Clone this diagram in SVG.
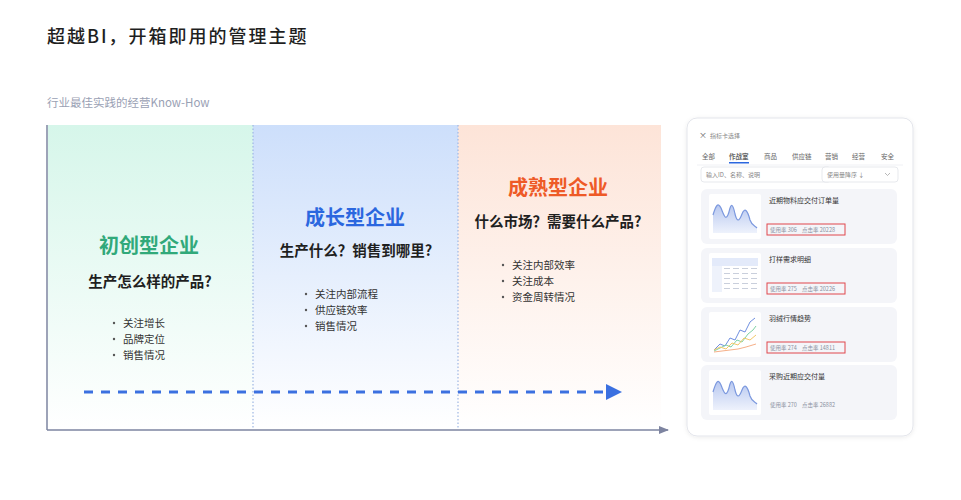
<svg xmlns="http://www.w3.org/2000/svg" width="961" height="500" viewBox="0 0 961 500">
<defs>
<linearGradient id="gGreen" x1="0" y1="0" x2="0" y2="1"><stop offset="0" stop-color="#d6f6ea"/><stop offset="1" stop-color="#ffffff"/></linearGradient>
<linearGradient id="gBlue" x1="0" y1="0" x2="0" y2="1"><stop offset="0" stop-color="#cddffb"/><stop offset="1" stop-color="#ffffff"/></linearGradient>
<linearGradient id="gOrange" x1="0" y1="0" x2="0" y2="1"><stop offset="0" stop-color="#fde4d8"/><stop offset="1" stop-color="#ffffff"/></linearGradient>
<linearGradient id="gArea" x1="0" y1="0" x2="0" y2="1"><stop offset="0" stop-color="#b8c8f0"/><stop offset="1" stop-color="#eef2fc"/></linearGradient>
<marker id="axisArrow" markerWidth="10" markerHeight="8" refX="9" refY="4" orient="auto" markerUnits="userSpaceOnUse"><path d="M0,0 L10,4 L0,8 Z" fill="#7d84a0"/></marker>
<filter id="shadow" x="-10%" y="-10%" width="120%" height="120%"><feDropShadow dx="0" dy="1" stdDeviation="2" flood-color="#000" flood-opacity="0.08"/></filter>
</defs>
<style>
text{font-family:"Noto Sans CJK SC","Noto Sans",sans-serif}
.title{font-size:18px;fill:#1f1f1f;font-weight:500;letter-spacing:2px}
.sub{font-size:11.5px;fill:#9aa1b4}
.stage{font-size:20px;font-weight:700;text-anchor:middle}
.q{font-size:14.5px;font-weight:700;fill:#1f1f1f;text-anchor:middle}
.b{font-size:10.5px;fill:#333}
.dot{fill:#555}
.sep{stroke:#9db6e3;stroke-width:1.2;stroke-dasharray:1.5 2}
.axis{stroke:#7d84a0;stroke-width:1.5;fill:none}
.tab{font-size:6.5px;fill:#666}
.small{font-size:6px;fill:#888}
.ctitle{font-size:7px;fill:#333}
.stat{font-size:5.5px;fill:#8a90a0}
.card{fill:#f4f5f9}
.thumb{fill:#ffffff}
.red{fill:none;stroke:#e0474c;stroke-width:1}
</style>
<rect width="961" height="500" fill="#ffffff"/>
<text class="title" x="47" y="43">超越BI，开箱即用的管理主题</text>
<text class="sub" x="47" y="107">行业最佳实践的经营Know-How</text>

<g id="stage1">
<rect x="48" y="125" width="205" height="304" fill="url(#gGreen)"/>
<text class="stage" x="149" y="253" fill="#31a97a">初创型企业</text>
<text class="q" x="150" y="287">生产怎么样的产品?</text>
<circle class="dot" cx="114" cy="323" r="1.2"/><text class="b" x="123" y="327">关注增长</text>
<circle class="dot" cx="114" cy="339" r="1.2"/><text class="b" x="123" y="343">品牌定位</text>
<circle class="dot" cx="114" cy="355" r="1.2"/><text class="b" x="123" y="359">销售情况</text>
</g>
<g id="stage2">
<rect x="253" y="125" width="205" height="304" fill="url(#gBlue)"/>
<text class="stage" x="355" y="225" fill="#2b67df">成长型企业</text>
<text class="q" x="356" y="256">生产什么？销售到哪里?</text>
<circle class="dot" cx="306" cy="294" r="1.2"/><text class="b" x="315" y="298">关注内部流程</text>
<circle class="dot" cx="306" cy="310" r="1.2"/><text class="b" x="315" y="314">供应链效率</text>
<circle class="dot" cx="306" cy="326" r="1.2"/><text class="b" x="315" y="330">销售情况</text>
</g>
<g id="stage3">
<rect x="458" y="125" width="203" height="304" fill="url(#gOrange)"/>
<text class="stage" x="558" y="195" fill="#ee5a27">成熟型企业</text>
<text class="q" x="558" y="227">什么市场？需要什么产品?</text>
<circle class="dot" cx="503" cy="265" r="1.2"/><text class="b" x="512" y="269">关注内部效率</text>
<circle class="dot" cx="503" cy="281" r="1.2"/><text class="b" x="512" y="285">关注成本</text>
<circle class="dot" cx="503" cy="297" r="1.2"/><text class="b" x="512" y="301">资金周转情况</text>
</g>

<g id="connectors">
<line class="sep" x1="253" y1="125" x2="253" y2="429"/>
<line class="sep" x1="458" y1="125" x2="458" y2="429"/>
<line class="axis" x1="47" y1="125" x2="47" y2="430"/>
<line class="axis" x1="47" y1="430" x2="668" y2="430" marker-end="url(#axisArrow)"/>
<line x1="84" y1="392" x2="606" y2="392" stroke="#3b70e0" stroke-width="3" stroke-dasharray="9 8"/>
<path d="M606,384 L622,392 L606,400 Z" fill="#3b70e0"/>
</g>

<g id="panel">
<rect x="687" y="118" width="226" height="318" rx="10" fill="#ffffff" stroke="#e3e5eb" filter="url(#shadow)"/>
<text x="699" y="138" font-size="8" fill="#666">×</text>
<text x="710" y="138" class="small" fill="#444">指标卡选择</text>
<text class="tab" x="702" y="159">全部</text>
<text class="tab" x="729" y="159" fill="#2b67df" font-weight="700">作战室</text>
<rect x="729" y="162" width="20" height="1.5" fill="#2b67df"/>
<text class="tab" x="764" y="159">商品</text>
<text class="tab" x="792" y="159">供应链</text>
<text class="tab" x="825" y="159">营销</text>
<text class="tab" x="852" y="159">经营</text>
<text class="tab" x="881" y="159">安全</text>
<line x1="697" y1="165" x2="903" y2="165" stroke="#eceef2" stroke-width="0.8"/>
<rect x="701" y="167" width="130" height="15" rx="3" fill="#fff" stroke="#e1e3e8" stroke-width="0.8"/>
<text class="small" x="706" y="177" fill="#999">输入ID、名称、说明</text>
<rect x="822" y="167" width="76" height="15" rx="3" fill="#fff" stroke="#e1e3e8" stroke-width="0.8"/>
<text class="small" x="827" y="177" fill="#555">使用量降序 ↓</text>
<path d="M885,173 L887.5,175.5 L890,173" fill="none" stroke="#999" stroke-width="0.7"/>

<g id="card1">
<rect class="card" x="701" y="189" width="196" height="55" rx="6"/>
<rect class="thumb" x="709" y="194" width="52" height="45" rx="2"/>
<path d="M713,233 L713,215 C716,205 718,202 721,208 C724,216 726,222 729,212 C731,202 733,204 735,214 C737,222 739,222 742,214 C745,206 748,212 750,220 C752,226 755,226 757,228 L757,233 Z" fill="url(#gArea)"/>
<path d="M713,215 C716,205 718,202 721,208 C724,216 726,222 729,212 C731,202 733,204 735,214 C737,222 739,222 742,214 C745,206 748,212 750,220 C752,226 755,226 757,228" fill="none" stroke="#7b98de" stroke-width="1.2"/>
<text class="ctitle" x="769" y="203">近期物料应交付订单量</text>
<rect class="red" x="767" y="224" width="78" height="11"/>
<text class="stat" x="770" y="232">使用率 306</text><text class="stat" x="802" y="232">点击率 20228</text>
</g>
<g id="card2">
<rect class="card" x="701" y="248" width="196" height="55" rx="6"/>
<rect class="thumb" x="709" y="253" width="52" height="45" rx="2"/>
<rect x="712" y="258" width="46" height="8" fill="#e3eafa"/>
<rect x="712" y="266" width="10" height="26" fill="#eef2fb"/>
<g fill="#c9cfdc">
<rect x="724" y="268" width="6" height="1"/><rect x="733" y="268" width="6" height="1"/><rect x="742" y="268" width="6" height="1"/><rect x="751" y="268" width="6" height="1"/>
<rect x="724" y="273" width="6" height="1"/><rect x="733" y="273" width="6" height="1"/><rect x="742" y="273" width="6" height="1"/><rect x="751" y="273" width="6" height="1"/>
<rect x="724" y="278" width="6" height="1"/><rect x="733" y="278" width="6" height="1"/><rect x="742" y="278" width="6" height="1"/><rect x="751" y="278" width="6" height="1"/>
<rect x="724" y="283" width="6" height="1"/><rect x="733" y="283" width="6" height="1"/><rect x="742" y="283" width="6" height="1"/><rect x="751" y="283" width="6" height="1"/>
<rect x="724" y="288" width="6" height="1"/><rect x="733" y="288" width="6" height="1"/><rect x="742" y="288" width="6" height="1"/><rect x="751" y="288" width="6" height="1"/>
</g>
<text class="ctitle" x="769" y="262">打样需求明细</text>
<rect class="red" x="767" y="283" width="78" height="11"/>
<text class="stat" x="770" y="291">使用率 275</text><text class="stat" x="802" y="291">点击率 20226</text>
</g>
<g id="card3">
<rect class="card" x="701" y="307" width="196" height="55" rx="6"/>
<rect class="thumb" x="709" y="312" width="52" height="45" rx="2"/>
<path d="M714,350 L720,344 L725,346 L730,338 L735,340 L740,330 L745,332 L750,322 L755,318" fill="none" stroke="#6f8fe0" stroke-width="1"/>
<path d="M714,351 L720,348 L726,345 L731,347 L737,340 L742,342 L748,334 L753,330 L756,326" fill="none" stroke="#7fd2a4" stroke-width="1"/>
<path d="M714,350 L720,347 L726,349 L732,343 L738,345 L744,338 L750,340 L756,335" fill="none" stroke="#f2c86a" stroke-width="1"/>
<path d="M714,352 L722,351 L730,350 L738,349 L746,347 L756,344" fill="none" stroke="#f29a6a" stroke-width="0.8"/>
<text class="ctitle" x="769" y="321">羽绒行情趋势</text>
<rect class="red" x="767" y="342" width="78" height="11"/>
<text class="stat" x="770" y="350">使用率 274</text><text class="stat" x="802" y="350">点击率 14811</text>
</g>
<g id="card4">
<rect class="card" x="701" y="365" width="196" height="55" rx="6"/>
<rect class="thumb" x="709" y="370" width="52" height="45" rx="2"/>
<path d="M713,410 L713,392 C716,382 718,378 721,385 C724,393 726,398 729,388 C731,378 733,380 735,390 C737,398 739,398 742,390 C745,382 748,388 750,396 C752,402 755,402 757,404 L757,410 Z" fill="url(#gArea)"/>
<path d="M713,392 C716,382 718,378 721,385 C724,393 726,398 729,388 C731,378 733,380 735,390 C737,398 739,398 742,390 C745,382 748,388 750,396 C752,402 755,402 757,404" fill="none" stroke="#7b98de" stroke-width="1.2"/>
<text class="ctitle" x="769" y="379">采购近期应交付量</text>
<text class="stat" x="770" y="407">使用率 270</text><text class="stat" x="802" y="407">点击率 26882</text>
</g>
</g>
</svg>
